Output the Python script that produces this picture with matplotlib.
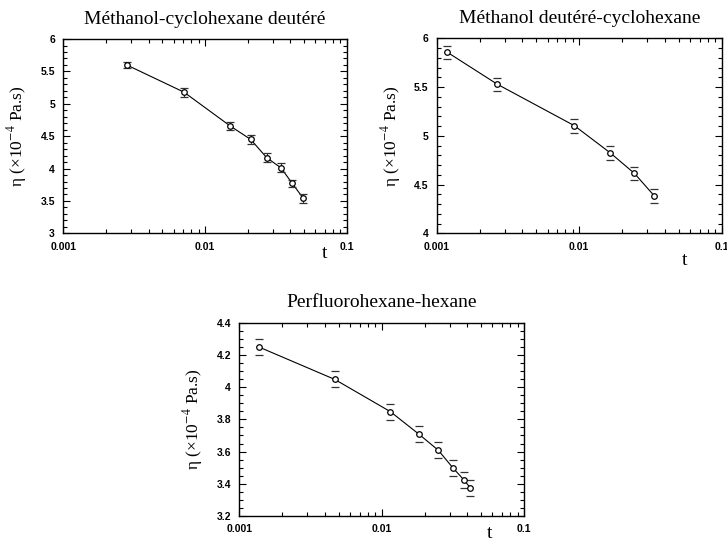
import numpy as np
import matplotlib.pyplot as plt
from matplotlib.ticker import MultipleLocator, FixedLocator, NullFormatter

plt.rcParams['mathtext.fontset'] = 'stix'

# Méthanol-cyclohexane deutéré
t1 = [0.0028, 0.0071, 0.0150, 0.0210, 0.0272, 0.0344, 0.0413, 0.0494]
eta1 = [5.60, 5.18, 4.66, 4.45, 4.17, 4.01, 3.77, 3.54]
err1 = [0.05, 0.07, 0.06, 0.07, 0.07, 0.07, 0.06, 0.07]

# Méthanol deutéré-cyclohexane
t2 = [0.00119, 0.00267, 0.00925, 0.01646, 0.0244, 0.0337]
eta2 = [5.856, 5.528, 5.104, 4.827, 4.615, 4.383]
err2 = [0.07, 0.07, 0.07, 0.07, 0.07, 0.07]

# Perfluorohexane-hexane
t3 = [0.001374, 0.00468, 0.0115, 0.0182, 0.0250, 0.0317, 0.0381, 0.0420]
eta3 = [4.249, 4.048, 3.848, 3.709, 3.608, 3.498, 3.421, 3.374]
err3 = [0.05, 0.05, 0.05, 0.05, 0.05, 0.05, 0.05, 0.05]

titles = ['Méthanol-cyclohexane deutéré', 'Méthanol deutéré-cyclohexane',
          'Perfluorohexane-hexane']
ylims = [(3, 6), (4, 6), (3.2, 4.4)]
ymajor = [0.5, 0.5, 0.2]
yminor = [0.1, 0.1, 0.05]
xlabels = ['0.001', '0.01', '0.1']

fig = plt.figure(figsize=(7.27, 5.42), dpi=100)
rects = [[0.0871, 0.5695, 0.3898, 0.3585],
         [0.6007, 0.5695, 0.3920, 0.3598],
         [0.3292, 0.0480, 0.3916, 0.3566]]
tpos = [(0.923, -0.125), (0.871, -0.16), (0.878, -0.114)]
data = [(t1, eta1, err1), (t2, eta2, err2), (t3, eta3, err3)]
elw = [0.8, 0, 0]

for i in range(3):
    ax = fig.add_axes(rects[i])
    t, eta, err = data[i]
    ax.plot(t, eta, color='black', lw=0.8)
    ax.errorbar(t, eta, yerr=err, fmt='o', ms=4, mfc='white', mec='black', mew=0.9,
                ecolor='#333333', elinewidth=elw[i], capsize=3, capthick=1.3)
    ax.set_xscale('log')
    ax.set_xlim(0.001, 0.1)
    ax.set_ylim(*ylims[i])
    ax.xaxis.set_major_locator(FixedLocator([0.001, 0.01, 0.1]))
    ax.set_xticklabels(xlabels)
    ax.xaxis.set_minor_formatter(NullFormatter())
    ax.yaxis.set_major_locator(MultipleLocator(ymajor[i]))
    ax.yaxis.set_minor_locator(MultipleLocator(yminor[i]))
    ax.yaxis.set_major_formatter(plt.FuncFormatter(lambda v, p: '%g' % round(v, 2)))
    ax.tick_params(which='both', direction='in', top=True, right=True, width=0.8)
    ax.tick_params(which='major', length=5, labelsize=7.5, pad=6)
    ax.tick_params(which='minor', length=3)
    for lab in ax.get_xticklabels() + ax.get_yticklabels():
        lab.set_fontfamily('Liberation Sans')
        lab.set_fontweight('bold')
    for s in ax.spines.values():
        s.set_linewidth(1.0)
    ax.set_title(titles[i], family='Liberation Serif', fontsize=14, pad=11)
    ax.set_ylabel(r'η (×10$^{-4}$ Pa.s)', family='Liberation Serif', fontsize=12.5, labelpad=8)
    ax.text(tpos[i][0], tpos[i][1], 't', transform=ax.transAxes, family='Liberation Serif',
            fontsize=14, ha='center', va='baseline')

fig.savefig('out.png', dpi=100)
